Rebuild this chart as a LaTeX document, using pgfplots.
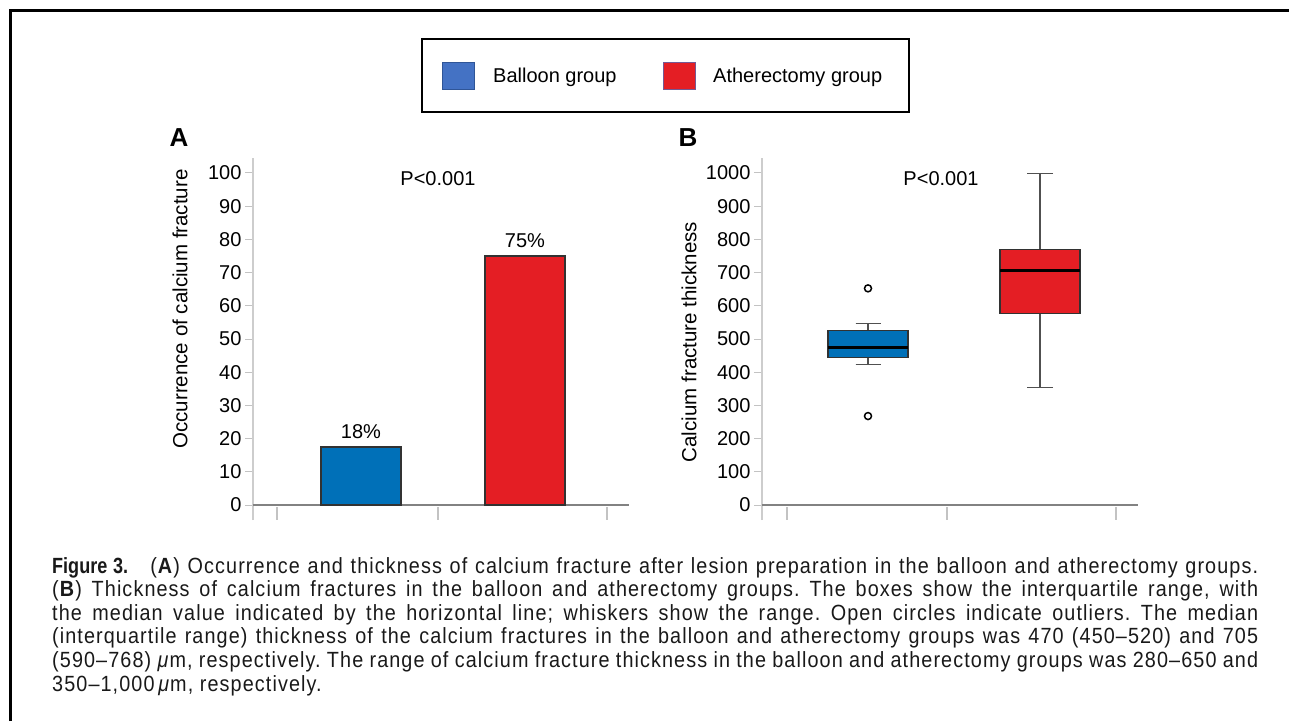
\documentclass[border=0pt]{standalone}
\usepackage{fontspec}
\setmainfont{Liberation Sans}
\newfontfamily\capfont{Liberation Sans}[LetterSpace=5, FakeStretch=0.9]
\newfontfamily\figfont{Liberation Sans}[FakeStretch=0.82]
\usepackage{pgfplots}
\pgfplotsset{compat=1.18}
\usepgfplotslibrary{statistics}
\definecolor{barblue}{RGB}{0,112,184}
\definecolor{barred}{RGB}{228,30,36}
\definecolor{legblue}{RGB}{68,114,196}
\definecolor{legborder}{RGB}{47,85,151}
\definecolor{bardraw}{RGB}{50,50,50}
\definecolor{axgrey}{RGB}{205,205,205}
\definecolor{tickgrey}{RGB}{195,195,195}
\definecolor{xaxgrey}{RGB}{130,130,130}
\definecolor{whiskgrey}{RGB}{80,80,80}
\pgfplotsset{
  panel/.style={
    scale only axis, width=376pt, height=362pt,
    xmin=0, xmax=376, anchor=south west,
    axis x line=none, axis y line*=left,
    y axis line style={-, draw=axgrey, line width=1.5pt},
    ytick style={draw=tickgrey, line width=1pt},
    major tick length=8pt, tick align=outside,
    xtick=\empty,
    yticklabel style={font=\fontsize{20}{22}\selectfont, text=black},
    /pgf/number format/assume math mode=true,
    /pgf/number format/1000 sep={},
    clip=false,
  }
}
\begin{document}
\begin{tikzpicture}
\path[use as bounding box] (0,0) rectangle (1289pt,-721pt);
% frame
\draw[line width=3pt] (10pt,-721pt) -- (10pt,-10pt) -- (1289pt,-10pt);
% legend
\draw[line width=1.3pt] (422pt,-39pt) rectangle (909pt,-112pt);
\fill[legblue, draw=legborder, line width=0.6pt] (442pt,-62pt) rectangle (474pt,-89pt);
\fill[barred, draw=legblue!70!barred, line width=0.5pt] (663pt,-62pt) rectangle (695pt,-89pt);
\node[anchor=west, inner sep=0, font=\fontsize{20}{24}\selectfont] at (493pt,-77pt) {Balloon group};
\node[anchor=west, inner sep=0, font=\fontsize{20}{24}\selectfont] at (713pt,-77pt) {Atherectomy group};
% panel letters
\node[font=\fontsize{26}{30}\bfseries] at (179pt,-138pt) {A};
\node[font=\fontsize{26}{30}\bfseries] at (688pt,-138pt) {B};
% y labels
\node[rotate=90, font=\fontsize{20.5}{24}\selectfont] at (180pt,-309pt) {Occurrence of calcium fracture};
\node[rotate=90, font=\fontsize{20.5}{24}\selectfont] at (689pt,-342pt) {Calcium fracture thickness};
% p values
\node[font=\fontsize{20}{24}\selectfont] at (438pt,-179pt) {P<0.001};
\node[font=\fontsize{20}{24}\selectfont] at (941pt,-179pt) {P<0.001};

% Panel A
\begin{axis}[panel, at={(253pt,-520pt)}, ymin=-4.5, ymax=104.5, ytick={0,10,...,100}]
\draw[xaxgrey, line width=1.5pt] (axis cs:0,0) -- (axis cs:376,0);
\pgfplotsinvokeforeach{24,185,354}{
  \draw[tickgrey, line width=1.2pt] (axis cs:#1,-0.6) -- (axis cs:#1,-4.5);
}
\addplot[ybar, bar width=80, bar shift=0pt, fill=barblue, draw=bardraw, line width=1.3pt,
  nodes near coords, point meta=explicit symbolic,
  nodes near coords style={font=\fontsize{20}{24}\selectfont, text=black, yshift=4pt}]
  coordinates {(108,17.5) [18\%]};
\addplot[ybar, bar width=80, bar shift=0pt, fill=barred, draw=bardraw, line width=1.3pt,
  nodes near coords, point meta=explicit symbolic,
  nodes near coords style={font=\fontsize{20}{24}\selectfont, text=black, yshift=4pt}]
  coordinates {(272,75) [75\%]};
\end{axis}

% Panel B
\begin{axis}[panel, at={(762pt,-520pt)}, ymin=-45, ymax=1045, ytick={0,100,...,1000},
  boxplot/draw direction=y,
  boxplot/every median/.style={draw=black, line width=3pt},
  boxplot/every whisker/.style={draw=whiskgrey, line width=1.3pt},
  boxplot/every box/.style={draw=bardraw, line width=1.3pt}]
\draw[xaxgrey, line width=1.5pt] (axis cs:0,0) -- (axis cs:376,0);
\pgfplotsinvokeforeach{25,185,354}{
  \draw[tickgrey, line width=1.2pt] (axis cs:#1,-6) -- (axis cs:#1,-45);
}
\addplot[boxplot prepared={draw position=106, median=475, upper quartile=526,
    lower quartile=443.5, upper whisker=547, lower whisker=422.5,
    box extend=80, whisker extend=25},
  fill=barblue, draw=bardraw, line width=1.3pt,
  mark=o, mark size=3.5pt, mark options={draw=black, fill=white, line width=1.5pt}]
  table[row sep=\\, y index=0] {data\\ 652.5\\ 268\\};
\addplot[boxplot prepared={draw position=278, median=705.5, upper quartile=770,
    lower quartile=576, upper whisker=999, lower whisker=353,
    box extend=80, whisker extend=26},
  fill=barred, draw=bardraw, line width=1.3pt, mark=none]
  coordinates {};
\end{axis}

% caption
\begin{scope}[every node/.style={anchor=base west, inner sep=0, font=\capfont\fontsize{22}{24}\selectfont\frenchspacing, text=black!90}]
\node at (52pt,-573pt) {\makebox[1206pt][s]{{\figfont\bfseries Figure 3.}\hspace{22pt}(\textbf{A}) Occurrence and thickness of calcium fracture after lesion preparation in the balloon and atherectomy groups.}};
\node at (52pt,-596.6pt) {\makebox[1206pt][s]{(\textbf{B}) Thickness of calcium fractures in the balloon and atherectomy groups. The boxes show the interquartile range, with}};
\node at (52pt,-620.2pt) {\makebox[1206pt][s]{the median value indicated by the horizontal line; whiskers show the range. Open circles indicate outliers. The median}};
\node at (52pt,-643.8pt) {\makebox[1206pt][s]{(interquartile range) thickness of the calcium fractures in the balloon and atherectomy groups was 470 (450–520) and 705}};
\node at (52pt,-667.4pt) {\makebox[1206pt][s]{(590–768) \textit{μ}m, respectively. The range of calcium fracture thickness in the balloon and atherectomy groups was 280–650 and}};
\node at (52pt,-691pt) {350–1,000\,\textit{μ}m, respectively.};
\end{scope}
\end{tikzpicture}
\end{document}
